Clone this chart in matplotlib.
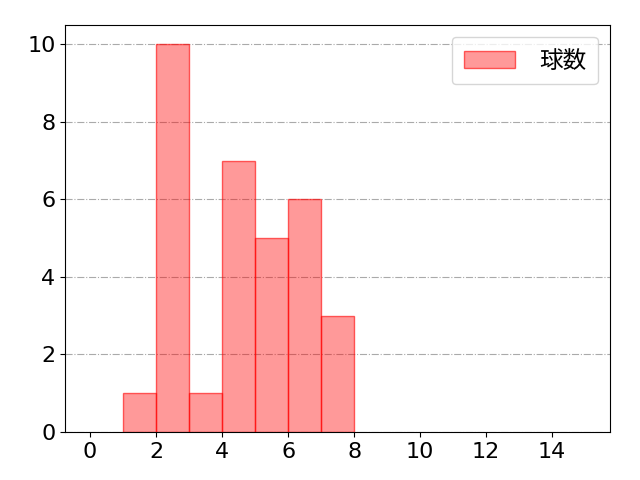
import matplotlib
matplotlib.use("Agg")
import matplotlib.pyplot as plt
import numpy as np

plt.rcParams["font.family"] = ["DejaVu Sans", "Noto Sans CJK JP"]

# unit-width bins: left edge and count (empty bins omitted)
bin_left = [1, 2, 3, 4, 5, 6, 7]
counts = [1, 10, 1, 7, 5, 6, 3]
label = "球数"

fig, ax = plt.subplots(figsize=(6.4, 4.8), dpi=100)
ax.bar(bin_left, counts, width=1, align="edge",
       color=(1, 0, 0, 0.4), edgecolor=(1, 0, 0, 0.6), linewidth=1,
       label=label)
ax.set_xlim(-0.75, 15.75)
ax.set_ylim(0, 10.5)
ax.set_xticks(np.arange(0, 15, 2))
ax.tick_params(labelsize=16)
ax.grid(axis="y", linestyle="-.", color="#aaaaaa", linewidth=0.8)
ax.set_axisbelow(True)
ax.legend(loc="upper right", fontsize=17, handlelength=2.2,
          handletextpad=1.0, borderpad=0.5)
fig.subplots_adjust(left=0.102, right=0.953, top=0.948, bottom=0.1)
fig.savefig("out.png")
